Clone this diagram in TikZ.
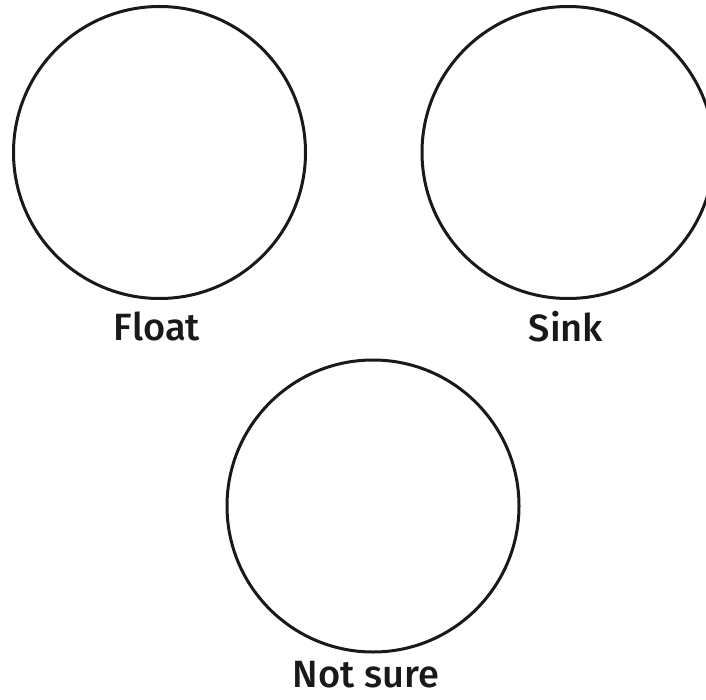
\documentclass[tikz,border=0pt]{standalone}
\usepackage{fontspec}
\setmainfont{Fira Sans}[UprightFont=* Medium]
\begin{document}
\begin{tikzpicture}[x=1pt,y=-1pt,
  ring/.style={draw=black!90,line width=3pt,circle,minimum size=292pt,inner sep=0pt},
  lbl/.style={font=\fontsize{38}{40}\selectfont,text=black!90,anchor=base,inner sep=0pt}]
\useasboundingbox (0,0) rectangle (706,700);
\clip (0,0) rectangle (706,700);
\node[ring] (float) at (159.5,152.5) {};
\node[ring] (sink) at (568,152.5) {};
\node[ring] (notsure) at (373,506) {};
\node[lbl] (floatlbl) at (157,340) {Float};
\node[lbl] (sinklbl) at (566,341) {Sink};
\node[lbl] (notsurelbl) at (366,687) {Not sure};
\end{tikzpicture}
\end{document}
